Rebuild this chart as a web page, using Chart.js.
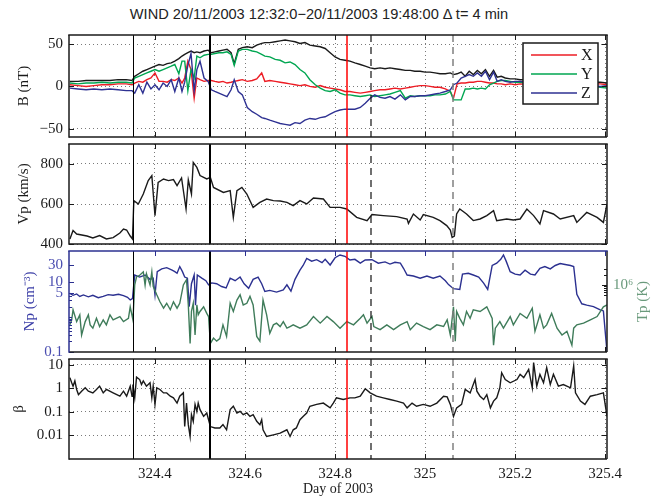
<!DOCTYPE html>
<html>
<head>
<meta charset="utf-8">
<script src="https://cdn.jsdelivr.net/npm/chart.js@4.4.1/dist/chart.umd.min.js"></script>
<style>
  body { margin: 0; background: #fff; }
  #wrap { position: relative; width: 658px; height: 498px; overflow: hidden; background: #fff; }
  #wrap canvas { position: absolute; left: 0; }
  #title { position: absolute; left: 50px; width: 538px; top: 6px; line-height: 16px; text-align: center;
           font: 14.6px "Liberation Sans", Arial, sans-serif; color: #222; white-space: nowrap; }
</style>
</head>
<body>
<div id="wrap">
  <div id="title">WIND 20/11/2003 12:32:0−20/11/2003 19:48:00 Δ t= 4 min</div>
  <canvas id="cB" width="658" height="122" style="top:25px"></canvas>
  <canvas id="cV" width="658" height="120" style="top:134px"></canvas>
  <canvas id="cN" width="658" height="121" style="top:241px"></canvas>
  <canvas id="cBeta" width="658" height="149" style="top:349px"></canvas>
</div>
<script>
// time axis: day of year 2003
const dayMin = 324.209, dayMax = 325.404;
const dayTicks = [324.4, 324.6, 324.8, 325, 325.2, 325.4];
// boundaries marked on every panel
const eventDays = [324.351, 324.522, 324.827, 324.880, 325.062];

// magnetic field, nT
const bDays = [324.211, 324.229, 324.247, 324.264, 324.282, 324.300, 324.318, 324.336, 324.349, 324.355,
  324.364, 324.373, 324.382, 324.391, 324.400, 324.409, 324.418, 324.427, 324.436, 324.444,
  324.453, 324.460, 324.466, 324.473, 324.480, 324.487, 324.493, 324.500, 324.509, 324.518,
  324.525, 324.533, 324.542, 324.551, 324.560, 324.569, 324.576, 324.585, 324.594, 324.605,
  324.616, 324.626, 324.637, 324.644, 324.655, 324.667, 324.678, 324.689, 324.700, 324.711,
  324.722, 324.733, 324.744, 324.756, 324.767, 324.778, 324.789, 324.800, 324.811, 324.822,
  324.833, 324.844, 324.856, 324.867, 324.878, 324.888, 324.900, 324.911, 324.922, 324.933,
  324.945, 324.956, 324.967, 324.977, 324.989, 325.000, 325.011, 325.022, 325.033, 325.045,
  325.056, 325.063, 325.071, 325.080, 325.089, 325.098, 325.107, 325.116, 325.125, 325.134,
  325.143, 325.152, 325.160, 325.169, 325.178, 325.189, 325.200, 325.211, 325.234, 325.266,
  325.300, 325.333, 325.367, 325.389, 325.404];
const bMag = [6, 6, 7, 7, 7, 7, 8, 8, 7, 12,
  15, 18, 20, 22, 24, 26, 25, 27, 28, 30,
  33, 36, 38, 40, 42, 40, 41, 40, 42, 43,
  40, 41, 42, 43, 44, 40, 27, 44, 46, 47,
  46, 49, 51, 52, 52, 53, 54, 55, 54, 53,
  51, 52, 49, 48, 47, 45, 40, 35, 32, 31,
  30, 28, 26, 24, 22, 21, 22, 21, 22, 21,
  20, 19, 19, 18, 18, 17, 17, 16, 15, 15,
  16, 14, 15, 17, 12, 18, 14, 19, 15, 20,
  12, 19, 11, 12, 10, 9, 9, 8, 8, 7,
  7, 6, 5, 5, 4];
const bx = [2, 1, 0, 1, 2, 2, 3, 3, 2, 4,
  6, 5, 8, 10, 16, 6, 6, 5, 8, 7,
  10, 4, 10, 30, 20, -14, 10, 8, 6, 7,
  7, 6, 5, 6, 4, 5, 6, 7, 8, 6,
  7, 9, 16, 6, 7, 6, 5, 4, 3, 2,
  1, 2, 0, -1, 1, -1, -2, -3, -4, -6,
  -6, -7, -8, -7, -6, -5, -4, -4, -3, -2,
  -3, -2, -1, 0, 1, 1, 0, -1, -1, -3,
  -6, -14, 3, 4, 4, 5, 5, 6, 6, 5,
  4, 4, 3, 3, 2, 3, 2, 3, 2, 2,
  3, 3, 3, 3, 2];
const by = [4, 3, 4, 4, 5, 4, 5, 5, 4, 10,
  12, 14, 16, 18, 20, 18, 20, 22, 24, 26,
  15, 30, 30, -5, 20, 10, 36, 34, 37, 38,
  38, 39, 40, 40, 41, 38, 25, 42, 44, 44,
  42, 41, 38, 36, 35, 32, 31, 28, 29, 26,
  20, 16, 8, 2, -2, -5, -6, -4, -8, -10,
  -10, -11, -12, -11, -10, -12, -11, -10, -9, -7,
  -5, -14, -11, -12, -11, -11, -11, -10, -10, -9,
  -6, -16, -16, -16, -3, -3, -2, -3, -2, -3,
  2, 4, 6, 7, 7, 6, 5, 5, 4, 3,
  3, 2, 1, -1, -2];
const bz = [-2, -3, -4, -3, -4, -3, -4, -5, -5, -8,
  2, -8, 5, -3, 2, -4, 4, 0, 8, -6,
  10, -6, 5, 25, 39, -5, 20, 30, 10, 6,
  -4, -6, -8, -10, -12, -4, 8, -6, -10, -25,
  -30, -33, -37, -38, -40, -42, -44, -45, -46, -43,
  -44, -40, -38, -39, -37, -36, -33, -30, -28, -27,
  -27, -27, -25, -20, -14, -10, -13, -14, -12, -15,
  -10, -16, -12, -12, -11, -11, -10, -9, -8, -6,
  -4, 2, 4, 10, 12, 14, 12, 16, 12, 18,
  8, 17, 6, 8, 6, 5, 6, 6, 4, 3,
  3, 2, 1, 0, 1];

// proton bulk speed, km/s
const vDays = [324.211, 324.218, 324.226, 324.249, 324.262, 324.277, 324.292, 324.307, 324.322, 324.330,
  324.337, 324.345, 324.350, 324.353, 324.363, 324.374, 324.385, 324.393, 324.400, 324.407,
  324.419, 324.430, 324.441, 324.449, 324.459, 324.469, 324.474, 324.481, 324.485, 324.493,
  324.500, 324.515, 324.523, 324.530, 324.552, 324.567, 324.574, 324.582, 324.593, 324.604,
  324.618, 324.633, 324.648, 324.663, 324.678, 324.693, 324.707, 324.722, 324.737, 324.752,
  324.774, 324.789, 324.811, 324.826, 324.848, 324.871, 324.882, 324.907, 324.937, 324.960,
  324.963, 324.974, 324.989, 324.996, 325.018, 325.033, 325.048, 325.056, 325.060, 325.065,
  325.070, 325.077, 325.092, 325.107, 325.122, 325.137, 325.152, 325.159, 325.181, 325.196,
  325.211, 325.226, 325.241, 325.255, 325.263, 325.285, 325.300, 325.330, 325.337, 325.359,
  325.382, 325.396, 325.404];
const vp = [425, 467, 450, 440, 430, 442, 425, 432, 455, 475,
  470, 440, 425, 617, 600, 650, 717, 742, 542, 708,
  725, 717, 722, 692, 730, 575, 720, 650, 808, 783,
  742, 725, 733, 683, 658, 667, 533, 667, 683, 650,
  583, 608, 625, 617, 615, 608, 592, 617, 600, 630,
  625, 583, 583, 575, 533, 517, 547, 542, 537, 525,
  503, 550, 520, 547, 533, 517, 492, 470, 433, 440,
  550, 575, 550, 517, 525, 542, 567, 517, 525, 520,
  525, 575, 542, 500, 567, 550, 525, 542, 508, 558,
  533, 508, 600];

// proton density, cm^-3
const nDays = [324.211, 324.218, 324.226, 324.233, 324.241, 324.252, 324.262, 324.274, 324.285, 324.296,
  324.307, 324.319, 324.330, 324.339, 324.345, 324.350, 324.355, 324.366, 324.378, 324.389,
  324.396, 324.400, 324.405, 324.415, 324.426, 324.438, 324.444, 324.449, 324.455, 324.461,
  324.466, 324.472, 324.476, 324.481, 324.487, 324.490, 324.494, 324.504, 324.513, 324.519,
  324.526, 324.537, 324.548, 324.558, 324.567, 324.578, 324.589, 324.598, 324.608, 324.618,
  324.629, 324.637, 324.644, 324.655, 324.670, 324.685, 324.693, 324.702, 324.711, 324.722,
  324.729, 324.737, 324.748, 324.759, 324.771, 324.778, 324.789, 324.800, 324.811, 324.822,
  324.833, 324.844, 324.856, 324.867, 324.882, 324.896, 324.911, 324.922, 324.933, 324.945,
  324.952, 324.960, 324.974, 324.989, 325.004, 325.018, 325.033, 325.045, 325.052, 325.063,
  325.077, 325.083, 325.096, 325.107, 325.119, 325.130, 325.139, 325.149, 325.159, 325.168,
  325.174, 325.180, 325.189, 325.200, 325.211, 325.222, 325.234, 325.244, 325.255, 325.266,
  325.278, 325.289, 325.300, 325.311, 325.323, 325.330, 325.337, 325.348, 325.359, 325.374,
  325.389, 325.396, 325.404];
const np = [4.8, 4.2, 4.6, 3.9, 4.3, 3.8, 4.2, 3.6, 3.9, 4.4,
  4.2, 4.5, 4.1, 3.7, 3.1, 3.4, 16, 14, 16, 12,
  13, 4.3, 20, 24, 26, 22, 20, 18, 28, 20,
  14, 13, 2.0, 9, 16, 2.2, 16, 13, 11, 8.4,
  9.5, 9, 7.5, 6.8, 13, 11, 14, 9, 6.7, 12,
  14, 9, 5.4, 5.8, 5.2, 6, 8.4, 5.5, 12, 22,
  30, 48, 40, 44, 36, 45, 31, 50, 60, 55,
  43, 45, 35, 43, 44, 35, 38, 33, 37, 35,
  25, 16, 15, 13, 15, 13, 15, 11, 8.5, 6.5,
  6.2, 17, 18, 16, 14, 9.4, 6.2, 30, 35, 45,
  60, 40, 20, 17, 16, 22, 17, 16, 25, 28,
  24, 30, 34, 32, 30, 28, 4.5, 2.4, 2.2, 2.0,
  1.6, 1.5, 0.1];

// proton temperature, K
const tDays = [324.211, 324.215, 324.218, 324.226, 324.233, 324.237, 324.245, 324.252, 324.256, 324.262,
  324.270, 324.277, 324.285, 324.292, 324.300, 324.307, 324.322, 324.330, 324.341, 324.345,
  324.351, 324.355, 324.359, 324.366, 324.374, 324.378, 324.381, 324.389, 324.393, 324.396,
  324.404, 324.411, 324.419, 324.426, 324.434, 324.441, 324.449, 324.455, 324.463, 324.470,
  324.474, 324.478, 324.481, 324.485, 324.489, 324.493, 324.496, 324.500, 324.508, 324.515,
  324.519, 324.523, 324.530, 324.537, 324.544, 324.551, 324.559, 324.567, 324.574, 324.582,
  324.589, 324.596, 324.604, 324.611, 324.618, 324.626, 324.633, 324.640, 324.648, 324.655,
  324.663, 324.670, 324.678, 324.685, 324.693, 324.700, 324.707, 324.722, 324.737, 324.752,
  324.767, 324.782, 324.796, 324.811, 324.826, 324.841, 324.856, 324.863, 324.871, 324.882,
  324.886, 324.900, 324.915, 324.930, 324.945, 324.960, 324.967, 324.981, 324.996, 325.011,
  325.026, 325.041, 325.049, 325.056, 325.063, 325.067, 325.070, 325.077, 325.085, 325.092,
  325.100, 325.107, 325.122, 325.137, 325.149, 325.152, 325.156, 325.166, 325.174, 325.189,
  325.196, 325.211, 325.226, 325.238, 325.244, 325.255, 325.263, 325.270, 325.281, 325.293,
  325.304, 325.315, 325.326, 325.330, 325.337, 325.352, 325.367, 325.382, 325.396, 325.404];
const tp = [6.4e4, 9.0e4, 1.8e5, 8.0e4, 1.27e5, 3.2e4, 8.0e4, 1.27e5, 6.4e4, 5.1e4,
  1.0e5, 5.7e4, 9.0e4, 6.4e4, 1.27e5, 9.0e4, 1.13e5, 8.0e4, 1.0e5, 2.2e5,
  9.0e4, 9.8e5, 1.7e6, 1.9e6, 2.4e6, 9.8e5, 2.1e6, 9.8e5, 2.4e6, 9.0e5,
  5.0e5, 3.1e5, 2.0e5, 2.8e5, 1.8e5, 3.1e5, 2.0e5, 2.8e5, 9.8e5, 1.4e6,
  2.5e5, 1.8e4, 1.6e5, 2.8e5, 3.2e4, 2.5e5, 1.27e5, 1.6e5, 2.2e5, 1.4e5,
  1.13e5, 1.8e4, 2.6e4, 2.1e4, 2.5e4, 6.4e4, 2.9e4, 2.8e5, 1.6e5, 3.5e5,
  5.0e5, 2.5e5, 2.8e5, 4.5e5, 2.5e5, 2.9e4, 2.1e4, 3.5e5, 1.27e5, 3.6e4,
  6.4e4, 7.2e4, 5.7e4, 8.0e4, 5.1e4, 5.7e4, 6.4e4, 5.1e4, 6.4e4, 1.13e5,
  7.2e4, 1.13e5, 8.0e4, 5.1e4, 8.0e4, 6.4e4, 1.0e5, 1.27e5, 7.2e4, 1.13e5,
  5.7e4, 4.6e4, 6.4e4, 4.6e4, 6.4e4, 8.0e4, 4.6e4, 7.2e4, 5.7e4, 4.6e4,
  6.4e4, 5.7e4, 9.0e4, 3.2e4, 2.2e5, 2.1e4, 1.6e5, 1.0e5, 6.4e4, 1.6e5,
  1.0e5, 1.8e5, 1.6e5, 2.2e5, 1.0e5, 1.6e4, 5.1e4, 8.0e4, 5.1e4, 1.13e5,
  6.4e4, 1.4e5, 1.0e5, 2.0e5, 4.1e4, 1.27e5, 5.1e4, 6.4e4, 1.4e5, 5.1e4,
  3.2e4, 4.1e4, 1.6e4, 5.1e4, 6.4e4, 7.2e4, 9.0e4, 1.13e5, 2.2e5, 2.5e5];

// plasma beta
const betaDays = [324.211, 324.215, 324.218, 324.222, 324.226, 324.230, 324.237, 324.245, 324.252, 324.262,
  324.270, 324.277, 324.285, 324.292, 324.307, 324.322, 324.330, 324.337, 324.345, 324.349,
  324.351, 324.355, 324.359, 324.366, 324.370, 324.374, 324.381, 324.389, 324.393, 324.396,
  324.400, 324.404, 324.411, 324.419, 324.426, 324.434, 324.441, 324.449, 324.455, 324.463,
  324.466, 324.470, 324.474, 324.478, 324.481, 324.485, 324.489, 324.493, 324.496, 324.500,
  324.508, 324.515, 324.519, 324.523, 324.533, 324.544, 324.551, 324.559, 324.567, 324.574,
  324.582, 324.589, 324.596, 324.604, 324.611, 324.618, 324.626, 324.633, 324.637, 324.640,
  324.648, 324.663, 324.678, 324.693, 324.700, 324.707, 324.714, 324.722, 324.729, 324.737,
  324.744, 324.759, 324.774, 324.789, 324.796, 324.803, 324.818, 324.833, 324.844, 324.856,
  324.867, 324.878, 324.892, 324.907, 324.922, 324.937, 324.952, 324.960, 324.971, 324.981,
  324.996, 325.011, 325.026, 325.041, 325.049, 325.056, 325.063, 325.070, 325.081, 325.089,
  325.100, 325.111, 325.115, 325.122, 325.130, 325.137, 325.145, 325.152, 325.159, 325.166,
  325.170, 325.178, 325.189, 325.204, 325.211, 325.219, 325.230, 325.238, 325.241, 325.248,
  325.255, 325.263, 325.270, 325.278, 325.285, 325.296, 325.307, 325.323, 325.330, 325.334,
  325.345, 325.355, 325.367, 325.382, 325.396, 325.404];
const beta = [2.9, 1.75, 1.26, 2.1, 0.91, 0.55, 0.77, 1.07, 0.77, 0.65,
  0.91, 1.26, 0.65, 0.91, 0.65, 0.47, 0.77, 0.47, 1.26, 0.47,
  1.48, 0.40, 3.06, 2.4, 1.48, 2.1, 1.26, 1.75, 0.40, 1.26,
  0.21, 1.07, 0.91, 0.65, 0.65, 0.47, 0.40, 0.24, 0.47, 0.65,
  0.024, 0.24, 0.029, 0.0091, 0.077, 0.040, 0.21, 0.107, 0.24, 0.126,
  0.065, 0.091, 0.047, 0.024, 0.021, 0.021, 0.029, 0.0175, 0.126, 0.175,
  0.091, 0.107, 0.077, 0.091, 0.065, 0.077, 0.040, 0.029, 0.047, 0.0175,
  0.0091, 0.0107, 0.0126, 0.0175, 0.0091, 0.0175, 0.021, 0.047, 0.065, 0.091,
  0.175, 0.21, 0.24, 0.15, 0.24, 0.40, 0.34, 0.40, 0.40, 0.47,
  0.97, 0.65, 0.47, 0.40, 0.34, 0.29, 0.24, 0.15, 0.24, 0.175,
  0.21, 0.175, 0.24, 0.47, 0.44, 0.21, 0.065, 0.15, 0.21, 0.91,
  0.65, 2.4, 0.77, 0.47, 0.34, 0.55, 0.15, 0.29, 0.40, 1.07,
  4.7, 2.4, 1.75, 2.4, 4.0, 2.9, 6.5, 1.07, 12.6, 1.26,
  4.0, 1.75, 7.7, 1.48, 4.0, 1.26, 1.48, 1.07, 9.1, 0.65,
  0.29, 0.21, 0.47, 0.55, 0.65, 0.065];

const SERIF = '"Liberation Serif", "Times New Roman", serif';
const INK = '#1a1a1a';
const GRID = '#7a7a7a';
const NP_BLUE = '#2b3090';
const TP_GREEN = '#3f7c5a';
const EVENT_RED = 'rgb(255, 0, 0)';

// look of the vertical boundary lines, same order as eventDays
const eventStyles = [
  { color: '#000', width: 1, dash: [] },
  { color: '#000', width: 2, dash: [] },
  { color: EVENT_RED, width: 1.5, dash: [] },
  { color: '#111', width: 1.2, dash: [7, 5] },
  { color: '#808080', width: 1.5, dash: [7, 5] }
];

function series(days, vals) {
  return days.map((d, i) => ({ x: d, y: vals[i] }));
}

function line(label, days, vals, color, extra) {
  return Object.assign({
    label: label, data: series(days, vals), borderColor: color, borderWidth: 1.4,
    pointRadius: 0, tension: 0, fill: false
  }, extra || {});
}

function dayAxis(withLabels, withGrid) {
  return {
    type: 'linear', min: dayMin, max: dayMax, bounds: 'data',
    afterBuildTicks: s => { s.ticks = dayTicks.map(v => ({ value: v })); },
    afterFit: s => { s.height = withLabels ? 39 : 0; s.paddingLeft = 0; s.paddingRight = 0; },
    grid: { display: withGrid, drawTicks: false, color: GRID, lineWidth: 1 },
    border: { display: false, dash: [1, 3] },
    ticks: {
      display: withLabels, font: { family: SERIF, size: 15 }, color: INK, padding: 6,
      maxRotation: 0, autoSkip: false, callback: v => String(Math.round(v * 10) / 10)
    },
    title: {
      display: withLabels, text: 'Day of 2003', font: { family: SERIF, size: 14 }, color: INK,
      padding: { top: 0, bottom: 0 }
    }
  };
}

function valueAxis(o) {
  return {
    type: o.type || 'linear', position: o.position || 'left', min: o.min, max: o.max, bounds: 'data',
    afterBuildTicks: s => { s.ticks = o.ticks.map(v => ({ value: v })); },
    afterFit: s => { s.width = o.width; s.paddingTop = 0; s.paddingBottom = 0; },
    grid: { display: !!o.grid, drawTicks: false, color: GRID, lineWidth: 1 },
    border: { display: false, dash: [1, 3] },
    ticks: {
      font: { family: SERIF, size: 15 }, color: o.color || INK, padding: 6, autoSkip: false,
      callback: o.format || (v => String(v))
    },
    title: o.title
      ? { display: true, text: o.title, font: { family: SERIF, size: 15 }, color: o.titleColor || o.color || INK,
          padding: { top: o.titlePad, bottom: 0 } }
      : { display: false }
  };
}

// boundary lines, inward ticks, box frame, legend and right-hand title
const panelDecor = {
  id: 'panelDecor',
  afterDatasetsDraw(chart) {
    const { ctx, chartArea: a, scales } = chart;
    eventDays.forEach((d, i) => {
      const st = eventStyles[i];
      const px = Math.round(scales.x.getPixelForValue(d)) + (st.width === 1 ? 0.5 : 0);
      ctx.save();
      ctx.beginPath();
      ctx.lineWidth = st.width;
      ctx.strokeStyle = st.color;
      ctx.setLineDash(st.dash);
      ctx.moveTo(px, a.top);
      ctx.lineTo(px, a.bottom);
      ctx.stroke();
      ctx.restore();
    });
  },
  afterDraw(chart, args, opts) {
    const { ctx, chartArea: a, scales } = chart;
    const L = a.left, R = a.right, T = a.top, B = a.bottom;
    const seg = (x1, y1, x2, y2, c, w) => {
      ctx.beginPath();
      ctx.strokeStyle = c;
      ctx.lineWidth = w || 1;
      ctx.moveTo(x1, y1);
      ctx.lineTo(x2, y2);
      ctx.stroke();
    };
    ctx.save();
    ctx.setLineDash([]);
    const leftC = opts.leftColor || INK;
    dayTicks.forEach(v => {
      const px = Math.round(scales.x.getPixelForValue(v)) + 0.5;
      seg(px, B, px, B - 5, INK);
      seg(px, T, px, T + 5, opts.topColor || INK);
    });
    scales.y.ticks.forEach(t => {
      const py = Math.round(scales.y.getPixelForValue(t.value)) + 0.5;
      seg(L, py, L + 5, py, leftC);
      if (!scales.y2) seg(R, py, R - 5, py, INK);
    });
    (opts.minorLeft || []).forEach(v => {
      const py = Math.round(scales.y.getPixelForValue(v)) + 0.5;
      seg(L, py, L + 3, py, leftC);
    });
    if (scales.y2) {
      scales.y2.ticks.forEach(t => {
        const py = Math.round(scales.y2.getPixelForValue(t.value)) + 0.5;
        seg(R, py, R - 5, py, INK);
      });
      (opts.minorRight || []).forEach(v => {
        const py = Math.round(scales.y2.getPixelForValue(v)) + 0.5;
        seg(R, py, R - 3, py, INK);
      });
    }
    // box
    seg(L, B, R, B, INK, 1.5);
    seg(R, T, R, B, INK, 1.5);
    seg(L - 0.75, T, R + 0.75, T, opts.topColor || INK, 1.5);
    seg(L, T, L, B + 0.75, leftC, 1.5);

    if (opts.legend) {
      const lg = opts.legend;
      const bx0 = R - lg.right - lg.w, by0 = T + lg.top;
      ctx.fillStyle = '#fff';
      ctx.fillRect(bx0, by0, lg.w, lg.h);
      ctx.lineWidth = 1.5;
      ctx.strokeStyle = INK;
      ctx.strokeRect(bx0, by0, lg.w, lg.h);
      ctx.font = '16px ' + SERIF;
      ctx.textBaseline = 'middle';
      ctx.textAlign = 'left';
      lg.items.forEach((idx, k) => {
        const ds = chart.data.datasets[idx];
        const yy = by0 + lg.rows[k];
        seg(bx0 + 8, yy, bx0 + 54, yy, ds.borderColor, 1.5);
        ctx.fillStyle = INK;
        ctx.fillText(ds.label, bx0 + 58, yy + 1);
      });
    }
    if (opts.rightTitle) {
      ctx.save();
      ctx.translate(R + opts.rightTitle.dx, (T + B) / 2);
      ctx.rotate(-Math.PI / 2);
      ctx.font = '15px ' + SERIF;
      ctx.fillStyle = opts.rightTitle.color;
      ctx.textAlign = 'center';
      ctx.textBaseline = 'middle';
      ctx.fillText(opts.rightTitle.text, 0, 0);
      ctx.restore();
    }
    ctx.restore();
  }
};

function panel(id, datasets, scales, decor, padding) {
  return new Chart(document.getElementById(id), {
    type: 'line',
    data: { datasets: datasets },
    options: {
      responsive: false, animation: false, events: [],
      layout: { padding: padding },
      plugins: { legend: { display: false }, tooltip: { enabled: false }, panelDecor: decor },
      scales: scales
    },
    plugins: [panelDecor]
  });
}

const minus = v => (v < 0 ? '\u2212' + Math.abs(v) : String(v));

// B components and magnitude
panel('cB', [
  line('X', bDays, bx, '#ed1c24', { order: 2 }),
  line('Y', bDays, by, '#00a651', { order: 1 }),
  line('Z', bDays, bz, '#2e3192', { order: 0 }),
  line('|B|', bDays, bMag, INK, { order: 3 })
], {
  x: dayAxis(false, true),
  y: valueAxis({ min: -60, max: 61, ticks: [-50, 0, 50], width: 69, grid: true, format: minus,
                 title: 'B (nT)', titlePad: 15 })
}, { legend: { right: 9, top: 8, w: 75, h: 61, rows: [12, 31, 50], items: [0, 1, 2] } },
{ top: 10, bottom: 10, left: 0, right: 51 });

// proton speed
panel('cV', [line('Vp', vDays, vp, INK)], {
  x: dayAxis(false, true),
  y: valueAxis({ min: 400, max: 900, ticks: [400, 600, 800], width: 69, grid: true,
                 title: 'Vp (km/s)', titlePad: 15 })
}, {}, { top: 10, bottom: 10, left: 0, right: 51 });

// density (left) and temperature (right)
panel('cN', [
  line('Np', nDays, np, NP_BLUE, { yAxisID: 'y', order: 1 }),
  line('Tp', tDays, tp, TP_GREEN, { yAxisID: 'y2', order: 0 })
], {
  x: dayAxis(false, false),
  y: valueAxis({ type: 'logarithmic', min: 0.1, max: 78, ticks: [0.1, 5, 10, 30], width: 69,
                 color: '#4a4db0', titleColor: '#3a3da6', title: 'Np (cm\u207B\u00B3)', titlePad: 21 }),
  y2: valueAxis({ type: 'logarithmic', position: 'right', min: 1e4, max: 1e7, ticks: [1e6], width: 51,
                  color: '#6a9a7c', format: () => '10\u2076' })
}, {
  leftColor: NP_BLUE, topColor: NP_BLUE,
  minorLeft: [0.2, 0.3, 0.4, 0.5, 0.6, 0.7, 0.8, 0.9, 1, 2, 3, 4],
  minorRight: [5e5, 6e5, 7e5, 8e5, 9e5, 2e6, 3e6],
  rightTitle: { text: 'Tp (K)', dx: 36, color: '#6a9a7c' }
}, { top: 10, bottom: 10, left: 0, right: 0 });

// plasma beta
panel('cBeta', [line('beta', betaDays, beta, INK)], {
  x: dayAxis(true, true),
  y: valueAxis({ type: 'logarithmic', min: 0.001, max: 18, ticks: [0.01, 0.1, 1, 10], width: 69, grid: true,
                 title: '\u03B2', titlePad: 10 })
}, {}, { top: 10, bottom: 0, left: 0, right: 51 });
</script>
</body>
</html>
